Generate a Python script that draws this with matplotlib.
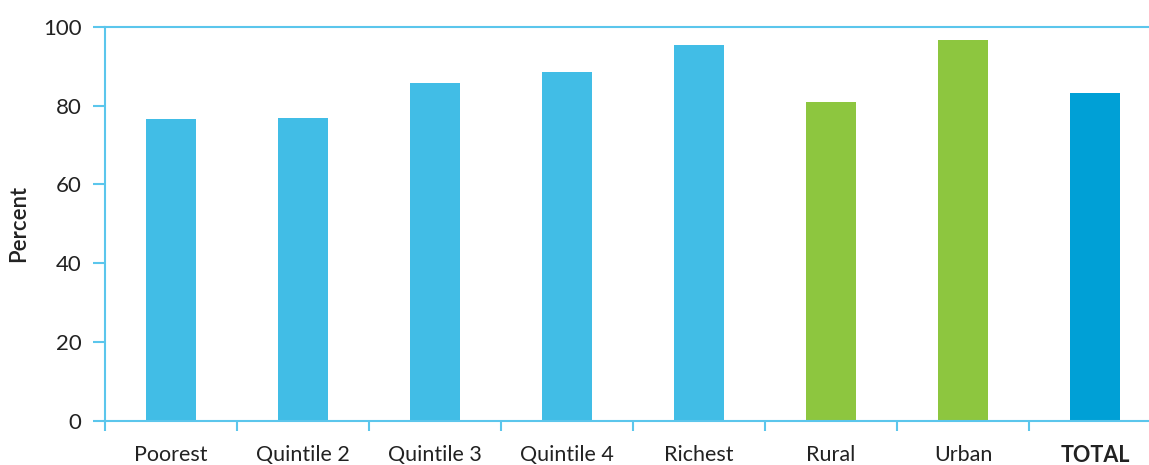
import matplotlib
matplotlib.use('Agg')
import matplotlib.pyplot as plt
import numpy as np

categories = ['Poorest', 'Quintile 2', 'Quintile 3', 'Quintile 4', 'Richest', 'Rural', 'Urban', 'TOTAL']
values = [76.6, 76.8, 85.7, 88.5, 95.4, 81.0, 96.6, 83.2]
bar_colors = ['#41BDE6'] * 5 + ['#8DC63F'] * 2 + ['#00A0D6']

plt.rcParams['font.family'] = ['Lato', 'DejaVu Sans']
line_col = '#5BC6EC'

fig = plt.figure(figsize=(11.49, 4.65), dpi=100)
ax = fig.add_axes([105 / 1149, 44 / 465, 1056 / 1149, 394.3 / 465])

x = np.arange(len(categories))
ax.bar(x, values, width=0.386, color=bar_colors, zorder=2)

ax.set_xlim(-0.5, len(categories) - 0.5)
ax.set_ylim(0, 100)
ax.set_yticks([0, 20, 40, 60, 80, 100])
ax.tick_params(axis='y', length=9, width=1.5, color=line_col, pad=8,
               labelsize=16, labelcolor='#222222')

ax.set_xticks(x)
ax.set_xticklabels(categories, fontsize=15.5, color='#222222')
ax.tick_params(axis='x', which='major', length=0, pad=17)
ax.set_xticks(np.arange(len(categories) + 1) - 0.5, minor=True)
ax.tick_params(axis='x', which='minor', length=7, width=1.5, color=line_col)
ax.get_xticklabels()[-1].set_fontweight('bold')

ax.spines['right'].set_visible(False)
for side in ['left', 'bottom', 'top']:
    ax.spines[side].set_color(line_col)
    ax.spines[side].set_linewidth(1.5)

ax.set_ylabel('Percent', fontsize=16, fontweight='semibold', color='#222222', labelpad=10)

fig.savefig('out.png', dpi=100)
